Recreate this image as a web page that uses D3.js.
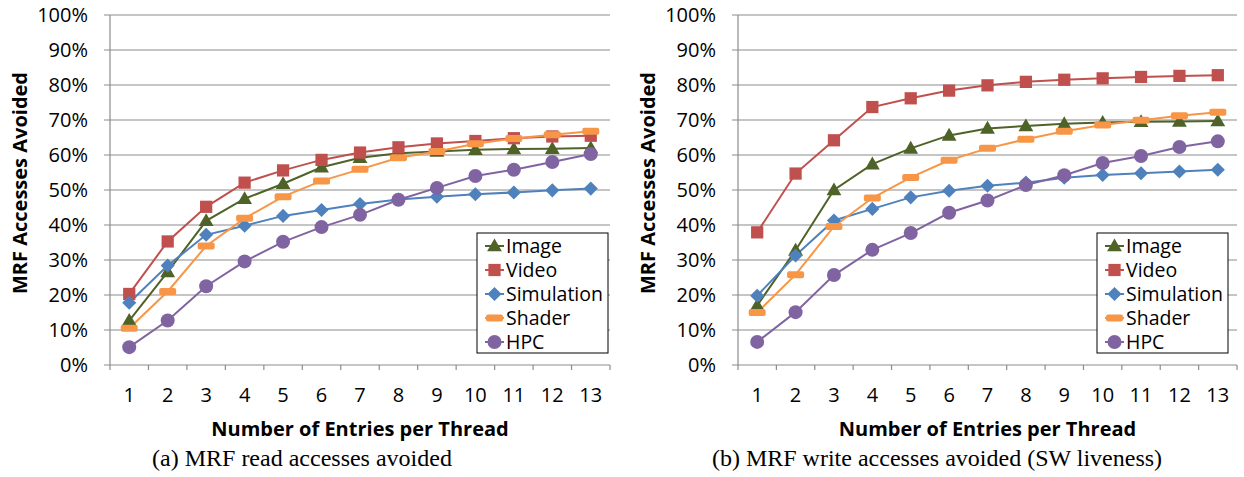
<!DOCTYPE html>
<html lang="en">
<head>
<meta charset="UTF-8">
<title>MRF Accesses Avoided</title>
<style>
  body { margin: 0; background: #fff; }
  .tick-label { font-family: "Open Sans", sans-serif; font-size: 20px; fill: #000; }
  .legend-label { font-family: "Open Sans", sans-serif; font-size: 19.5px; fill: #000; }
  .axis-title { font-family: "Open Sans", sans-serif; font-size: 20px; font-weight: bold; fill: #000; }
  .caption { font-family: "Liberation Serif", serif; font-size: 24px; fill: #000; }
</style>
</head>
<body>
<div id="chart"></div>
<script src="https://d3js.org/d3.v7.min.js"></script>
<script>
// categories and tick labels
const entries = ["1", "2", "3", "4", "5", "6", "7", "8", "9", "10", "11", "12", "13"];
const yTicks = [0, 10, 20, 30, 40, 50, 60, 70, 80, 90, 100];
const seriesNames = ["Image", "Video", "Simulation", "Shader", "HPC"];

// (a) read accesses avoided, %
const readImage = [12.7, 26.6, 41.2, 47.5, 51.8, 56.5, 59.2, 60.5, 61.0, 61.5, 61.7, 61.8, 62.0];
const readVideo = [20.3, 35.3, 45.2, 52.1, 55.6, 58.6, 60.7, 62.2, 63.3, 64.0, 64.8, 65.3, 65.5];
const readSimulation = [17.8, 28.4, 37.2, 39.8, 42.6, 44.3, 46.0, 47.3, 48.1, 48.8, 49.3, 49.9, 50.4];
const readShader = [10.5, 21.0, 34.0, 41.9, 48.1, 52.6, 55.9, 59.2, 61.0, 63.2, 64.7, 65.8, 66.8];
const readHPC = [5.1, 12.7, 22.5, 29.6, 35.2, 39.4, 42.9, 47.2, 50.6, 54.0, 55.8, 58.0, 60.3];

// (b) write accesses avoided (SW liveness), %
const writeImage = [17.0, 32.8, 50.0, 57.4, 61.9, 65.6, 67.6, 68.3, 68.9, 69.3, 69.5, 69.6, 69.7];
const writeVideo = [37.9, 54.7, 64.2, 73.7, 76.2, 78.4, 79.9, 80.9, 81.5, 81.9, 82.3, 82.6, 82.8];
const writeSimulation = [19.8, 31.3, 41.3, 44.6, 47.9, 49.8, 51.2, 52.1, 53.5, 54.3, 54.8, 55.3, 55.8];
const writeShader = [15.0, 25.8, 39.6, 47.7, 53.6, 58.5, 61.9, 64.5, 66.8, 68.6, 69.9, 71.2, 72.2];
const writeHPC = [6.6, 15.1, 25.7, 32.9, 37.7, 43.5, 47.0, 51.4, 54.2, 57.7, 59.7, 62.3, 63.9];

const colors = { Image: "#4F6228", Video: "#C0504D", Simulation: "#4F81BD", Shader: "#F79646", HPC: "#8064A2" };

const W = 1244, H = 477;
const svg = d3.select("#chart").append("svg").attr("width", W).attr("height", H);

const y = d3.scaleLinear().domain([0, 100]).range([365, 15]);

function drawMarker(sel, name) {
  const c = colors[name];
  if (name === "Shader") {
    sel.append("rect").attr("x", -8.5).attr("y", -3.5).attr("width", 17).attr("height", 7)
      .attr("rx", 2).attr("fill", c);
  } else if (name === "HPC") {
    sel.append("circle").attr("r", 7).attr("fill", c);
  } else if (name === "Simulation") {
    // square turned on its corner
    sel.append("path").attr("d", d3.symbol().type(d3.symbolSquare).size(100)())
      .attr("fill", c).attr("transform", "rotate(45)");
  } else {
    const type = name === "Image" ? d3.symbolTriangle : d3.symbolSquare;
    const size = name === "Image" ? 95 : 150;
    sel.append("path").attr("d", d3.symbol().type(type).size(size)()).attr("fill", c)
      .attr("transform", name === "Image" ? "translate(0,1)" : null);
  }
}

function drawPanel(left, right, series, title, caption, legendX) {
  const g = svg.append("g");
  const x = d3.scaleBand().domain(entries).range([left, right]);

  // gridlines + y ticks
  g.selectAll("line.grid").data(yTicks).enter().append("line")
    .attr("x1", left - 6).attr("x2", right)
    .attr("y1", d => y(d)).attr("y2", d => y(d))
    .attr("stroke", "#8c8c8c").attr("stroke-width", 1.2);

  g.selectAll("text.ylab").data(yTicks).enter().append("text")
    .attr("class", "tick-label")
    .attr("x", left - 22).attr("y", d => y(d)).attr("dy", "0.35em")
    .attr("text-anchor", "end")
    .text(d => d + "%");

  // y axis line
  g.append("line").attr("x1", left).attr("x2", left).attr("y1", y(100)).attr("y2", y(0) + 5)
    .attr("stroke", "#8c8c8c").attr("stroke-width", 1.2);

  // x ticks between categories
  const bounds = entries.map(d => x(d)).concat([right]);
  g.selectAll("line.xt").data(bounds.slice(1)).enter().append("line")
    .attr("x1", d => d).attr("x2", d => d).attr("y1", y(0)).attr("y2", y(0) + 5)
    .attr("stroke", "#8c8c8c").attr("stroke-width", 1.2);

  g.selectAll("text.xlab").data(entries).enter().append("text")
    .attr("class", "tick-label")
    .attr("x", d => x(d) + x.bandwidth() / 2).attr("y", 402)
    .attr("text-anchor", "middle")
    .text(d => d);

  // lines + markers
  const cx = (d, i) => x(entries[i]) + x.bandwidth() / 2;
  const line = d3.line().x((d, i) => cx(d, i)).y(d => y(d));
  series.forEach(s => {
    g.append("path").datum(s.values).attr("d", line)
      .attr("fill", "none").attr("stroke", colors[s.name]).attr("stroke-width", 2);
  });
  series.forEach(s => {
    s.values.forEach((v, i) => {
      const m = g.append("g").attr("transform", `translate(${cx(v, i)},${y(v)})`);
      drawMarker(m, s.name);
    });
  });

  // legend
  const lg = g.append("g").attr("transform", `translate(${legendX},233)`);
  lg.append("rect").attr("x", 0).attr("y", 0).attr("width", 131).attr("height", 120)
    .attr("fill", "#fff").attr("stroke", "#000").attr("stroke-width", 1);
  seriesNames.forEach((name, i) => {
    const row = lg.append("g").attr("transform", `translate(0,${13 + i * 24})`);
    row.append("line").attr("x1", 8).attr("x2", 27).attr("y1", 0).attr("y2", 0)
      .attr("stroke", colors[name]).attr("stroke-width", 2);
    const m = row.append("g").attr("transform", "translate(17.5,0)");
    drawMarker(m, name);
    row.append("text").attr("class", "legend-label").attr("x", 29).attr("y", 0).attr("dy", "0.35em").text(name);
  });

  // axis titles
  g.append("text").attr("class", "axis-title")
    .attr("x", (left + right) / 2).attr("y", 436).attr("text-anchor", "middle")
    .text("Number of Entries per Thread");
  g.append("text").attr("class", "axis-title")
    .attr("transform", `translate(${left - 83},${y(52)}) rotate(-90)`)
    .attr("text-anchor", "middle")
    .text(title);

  svg.append("text").attr("class", "caption")
    .attr("x", caption.x).attr("y", 466).attr("text-anchor", "middle")
    .text(caption.text);
}

drawPanel(110, 610, [
  { name: "Image", values: readImage },
  { name: "Video", values: readVideo },
  { name: "Simulation", values: readSimulation },
  { name: "Shader", values: readShader },
  { name: "HPC", values: readHPC }
], "MRF Accesses Avoided", { x: 302, text: "(a) MRF read accesses avoided" }, 477);

drawPanel(738, 1237, [
  { name: "Image", values: writeImage },
  { name: "Video", values: writeVideo },
  { name: "Simulation", values: writeSimulation },
  { name: "Shader", values: writeShader },
  { name: "HPC", values: writeHPC }
], "MRF Accesses Avoided", { x: 937, text: "(b) MRF write accesses avoided (SW liveness)" }, 1097);
</script>
</body>
</html>
